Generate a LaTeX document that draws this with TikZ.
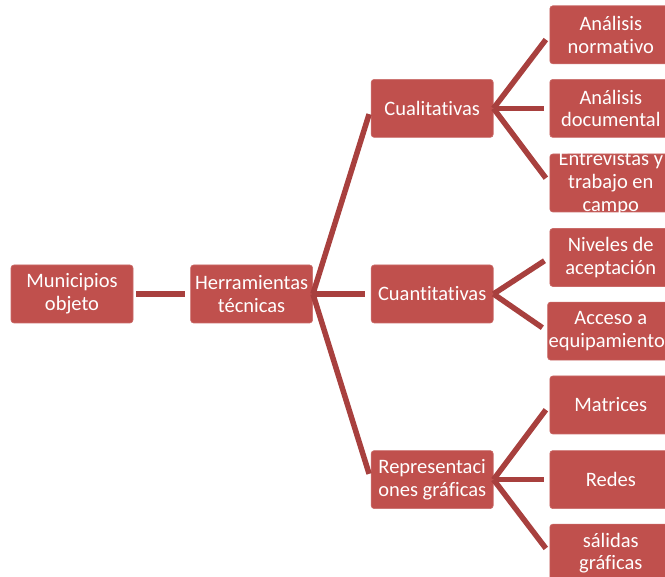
\documentclass[tikz,border=0pt]{standalone}
\usepackage{fontspec}
\setmainfont{Carlito}[RawFeature={-liga;-clig;-calt;-dlig}]
\usetikzlibrary{positioning}

\definecolor{boxred}{HTML}{C0504D}
\definecolor{linkred}{HTML}{A8403E}

\tikzset{
  box/.style={rectangle, rounded corners=3pt, fill=boxred, draw=boxred!85!white,
    line width=0.6pt, text=white, minimum width=122pt, minimum height=58pt,
    inner sep=1pt, align=center, font=\fontsize{20.5}{22.7}\selectfont},
  link/.style={draw=linkred, line width=5.5pt},
}

\begin{document}
\begin{tikzpicture}[x=1pt, y=1pt]
  \useasboundingbox (0,0) rectangle (665,577);

  % Define nodes
  \node[box] (mun) at (72,283) {Municipios\\objeto};
  \node[box, right=57pt of mun] (herr) {Herramientas\\técnicas};
  \node[box, right=58pt of herr] (cuant) {Cuantitativas};
  \node[box, above=127pt of cuant] (cual) {Cualitativas};
  \node[box, below=127pt of cuant] (rep) {Representaci\\ones gráficas};

  \node[box, right=56pt of cual] (doc) {Análisis\\documental};
  \node[box, above=15pt of doc] (norm) {Análisis\\normativo};
  \node[box, below=16pt of doc, inner ysep=-3.5pt] (entr) {Entrevistas y\\trabajo en\\campo};

  \node[box, right=56pt of cuant, yshift=36.5pt] (niv) {Niveles de\\aceptación};
  \node[box, below=15pt of niv] (acc) {Acceso a\\equipamientos};

  \node[box, right=56pt of rep] (red) {Redes};
  \node[box, above=16pt of red] (mat) {Matrices};
  \node[box, below=15pt of red] (sal) {sálidas\\gráficas};

  % Connect the nodes
  \draw[link, shorten <=3pt, shorten >=5pt] (mun.east) -- (herr.west);
  \foreach \kid in {cual, cuant, rep}
    \draw[link, shorten >=6pt] (herr.east) -- (\kid.west);
  \foreach \kid in {norm, doc, entr}
    \draw[link, shorten >=6pt] (cual.east) -- (\kid.west);
  \foreach \kid in {niv, acc}
    \draw[link, shorten >=6pt] (cuant.east) -- (\kid.west);
  \foreach \kid in {mat, red, sal}
    \draw[link, shorten >=6pt] (rep.east) -- (\kid.west);

\end{tikzpicture}
\end{document}
